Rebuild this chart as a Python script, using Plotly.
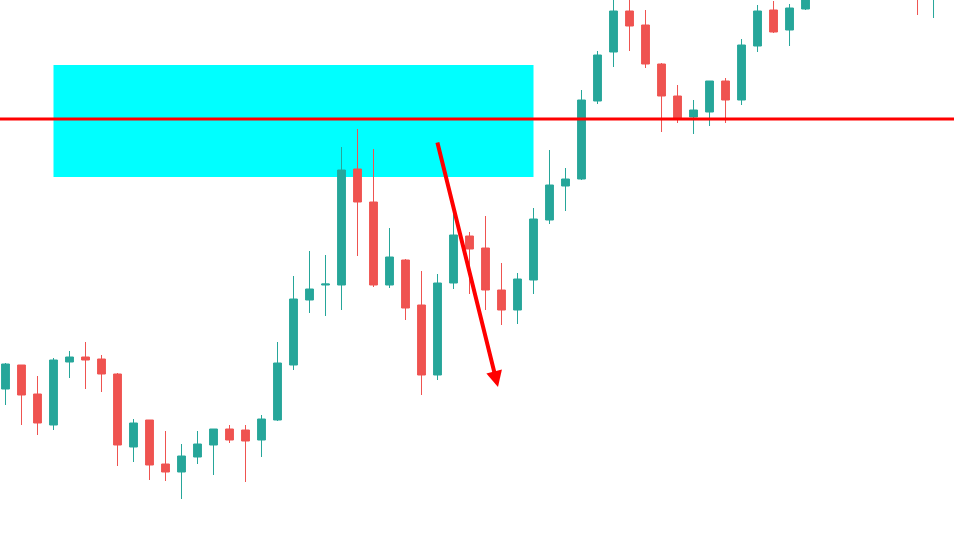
import plotly.graph_objects as go

# Candle index (bar number) and OHLC prices
idx = list(range(59))
opens = [162, 186, 157, 126, 189, 194, 192, 177, 104, 131, 87, 79, 94, 106, 122, 121, 111, 131, 186, 251,
         266, 266, 382, 349, 266, 291, 246, 176, 268, 315, 303, 261, 241, 271, 331, 365, 372, 450, 499, 540,
         526, 487, 455, 434, 439, 470, 451, 505, 541, 521, 542, 559, 586, 573, 599, 623, 606, 576, 556]
highs = [188, 186, 175, 193, 200, 209, 196, 178, 132, 131, 120, 107, 120, 122, 126, 126, 136, 209, 275, 300,
         296, 404, 422, 402, 323, 292, 280, 277, 339, 319, 335, 288, 278, 343, 401, 383, 461, 500, 559, 561,
         541, 488, 466, 451, 470, 473, 512, 546, 550, 547, 571, 589, 596, 609, 629, 635, 611, 601, 596]
lows = [146, 126, 116, 121, 173, 162, 159, 85, 89, 71, 70, 52, 87, 76, 108, 69, 94, 130, 181, 238,
        235, 241, 295, 264, 263, 231, 156, 171, 262, 257, 241, 226, 227, 257, 327, 340, 371, 447, 484, 500,
        483, 419, 428, 417, 425, 428, 446, 499, 518, 505, 541, 554, 557, 563, 581, 591, 559, 536, 533]
closes = [187, 156, 128, 191, 194, 191, 177, 106, 128, 86, 79, 95, 107, 122, 111, 110, 132, 188, 252, 262,
          267, 381, 349, 266, 294, 243, 176, 268, 316, 302, 261, 241, 272, 332, 366, 372, 451, 496, 540, 525,
          487, 455, 432, 441, 470, 451, 506, 540, 519, 543, 563, 581, 571, 601, 621, 606, 576, 561, 581]

# Annotation levels
zone_start, zone_end = 3, 33
zone_top, zone_bottom = 486, 374
level = 432
arrow_from = (26.97, 410)
arrow_to = (30.78, 164)

UP, DOWN = "#26a69a", "#ef5350"

fig = go.Figure(go.Candlestick(
    x=idx, open=opens, high=highs, low=lows, close=closes,
    increasing=dict(line=dict(color=UP, width=1), fillcolor=UP),
    decreasing=dict(line=dict(color=DOWN, width=1), fillcolor=DOWN),
    hoverinfo="skip",
))

fig.add_shape(type="rect", xref="x", yref="y", x0=zone_start, x1=zone_end,
              y0=zone_bottom, y1=zone_top, fillcolor="#00ffff", line=dict(width=0),
              layer="below")
fig.add_shape(type="line", xref="paper", yref="y", x0=0, x1=1, y0=level, y1=level,
              line=dict(color="#ff0000", width=3))
fig.add_annotation(x=arrow_to[0], y=arrow_to[1], ax=arrow_from[0], ay=arrow_from[1],
                   xref="x", yref="y", axref="x", ayref="y", text="", showarrow=True,
                   arrowhead=2, arrowsize=0.8, arrowwidth=4, arrowcolor="#ff0000", standoff=0)

fig.update_layout(
    width=954, height=551,
    margin=dict(l=0, r=0, t=0, b=0),
    paper_bgcolor="white", plot_bgcolor="white",
    showlegend=False,
    xaxis=dict(range=[-0.344, 59.28], visible=False, rangeslider=dict(visible=False), fixedrange=True),
    yaxis=dict(range=[0, 551], visible=False, fixedrange=True),
)

fig.write_html(
    "out.html",
    config={"displayModeBar": False},
    post_script="document.body.style.margin='0px';document.body.style.overflow='hidden';",
)
